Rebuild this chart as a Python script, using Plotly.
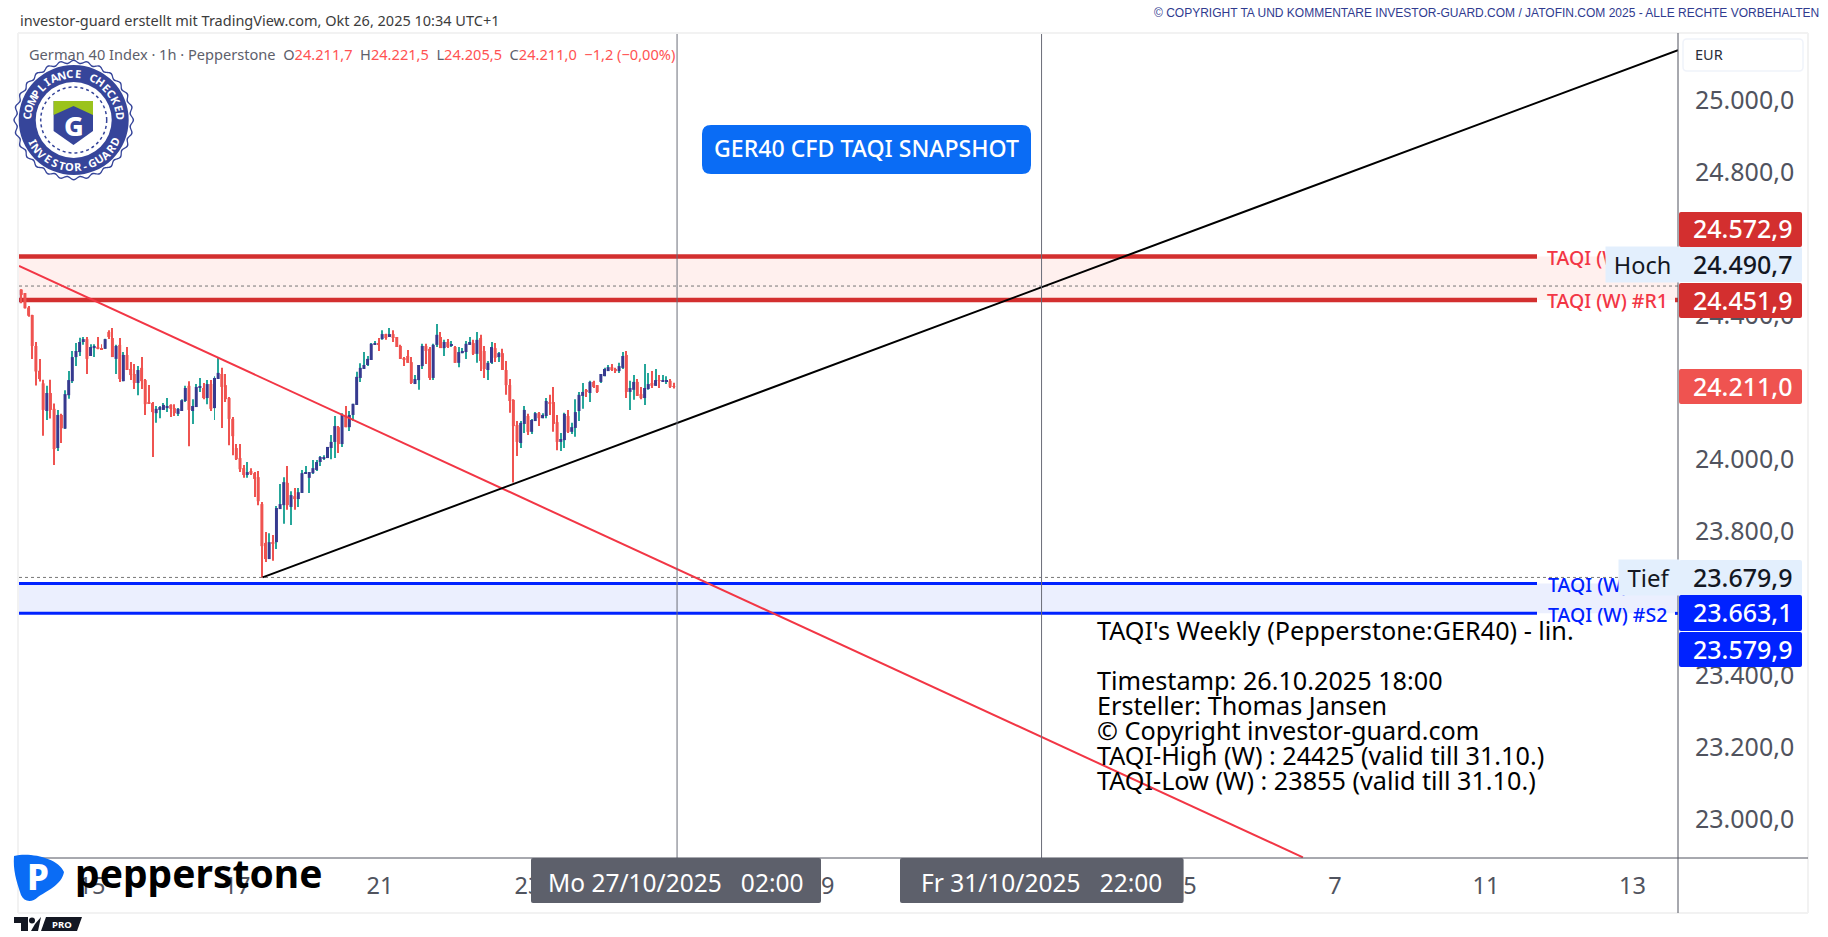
import numpy as np
import plotly.graph_objects as go

# hourly candles
opens = [24442,24481,24471,24431,24410,24324,24255,24220,24143,24193,
         24149,24040,24132,24094,24187,24226,24293,24307,24335,24343,
         24296,24318,24321,24318,24316,24363,24346,24288,24327,24226,
         24299,24260,24246,24221,24263,24229,24168,24165,24137,24146,
         24146,24151,24160,24151,24135,24143,24171,24213,24143,24154,
         24207,24207,24179,24218,24151,24232,24246,24215,24179,24121,
         24040,24012,23984,23965,23976,23970,23959,23884,23776,23731,
         23778,23778,23870,23881,23943,23876,23906,23898,23915,23968,
         23957,23970,23979,24001,24012,24012,24040,24057,24098,24051,
         24132,24098,24132,24160,24235,24260,24271,24285,24327,24330,
         24343,24357,24349,24357,24349,24324,24288,24296,24279,24218,
         24229,24268,24324,24316,24235,24327,24349,24318,24335,24324,
         24321,24277,24304,24307,24327,24332,24302,24346,24310,24257,
         24277,24318,24293,24304,24257,24215,24174,24104,24054,24107,
         24129,24085,24115,24137,24123,24129,24168,24168,24112,24057,
         24062,24129,24085,24096,24143,24185,24199,24193,24224,24215,
         24224,24240,24254,24265,24260,24254,24263,24299,24196,24202,
         24224,24190,24179,24204,24221,24213,24229,24225,24225,24227,24211.7]
highs = [24482,24482,24471,24435,24411,24335,24288,24230,24213,24230,
         24164,24146,24135,24201,24254,24310,24332,24347,24349,24349,
         24329,24329,24349,24329,24344,24368,24374,24327,24346,24307,
         24321,24279,24274,24268,24293,24232,24215,24168,24157,24157,
         24165,24179,24162,24162,24151,24176,24213,24226,24176,24218,
         24235,24221,24229,24229,24240,24293,24263,24246,24182,24126,
         24051,24051,23993,24001,23984,23973,23976,23890,23806,23803,
         23798,23879,23940,23959,23990,23920,23929,23929,23979,23990,
         23973,24007,24007,24018,24020,24043,24076,24129,24101,24137,
         24157,24143,24163,24252,24276,24307,24296,24332,24338,24346,
         24368,24358,24374,24368,24349,24327,24293,24313,24293,24243,
         24271,24330,24330,24321,24330,24385,24363,24341,24343,24338,
         24324,24321,24318,24338,24349,24341,24363,24355,24324,24282,
         24335,24332,24307,24316,24282,24232,24176,24115,24115,24157,
         24135,24121,24140,24140,24137,24179,24188,24210,24132,24082,
         24138,24146,24110,24176,24196,24221,24204,24227,24227,24215,
         24246,24263,24271,24274,24263,24277,24307,24310,24227,24243,
         24232,24210,24274,24249,24254,24260,24243,24243,24240,24232,24221.5]
lows = [24438,24443,24428,24405,24288,24214,24225,24074,24118,24122,
        23993,24032,24054,24093,24177,24221,24268,24296,24327,24246,
        24296,24293,24315,24313,24316,24343,24293,24246,24224,24226,
        24257,24229,24204,24187,24204,24132,24164,24015,24110,24123,
        24146,24140,24126,24129,24129,24143,24168,24045,24107,24154,
        24196,24176,24162,24143,24118,24232,24096,24168,24048,24020,
        24007,23973,23957,23957,23965,23904,23881,23680,23723,23731,
        23726,23759,23870,23829,23868,23826,23868,23876,23915,23968,
        23915,23968,23976,23990,24007,24012,24009,24012,24026,24043,
        24098,24087,24115,24160,24224,24260,24268,24285,24327,24310,
        24341,24341,24349,24335,24321,24288,24268,24277,24218,24218,
        24202,24260,24274,24229,24229,24321,24318,24296,24318,24321,
        24277,24265,24304,24288,24327,24299,24277,24254,24235,24229,
        24274,24279,24279,24257,24188,24138,23944,24018,24040,24082,
        24076,24079,24115,24101,24123,24123,24132,24085,24034,24032,
        24040,24082,24079,24071,24115,24149,24182,24168,24207,24193,
        24221,24240,24254,24254,24249,24249,24260,24179,24146,24174,
        24185,24176,24160,24202,24207,24213,24207,24224,24218,24207,24205.5]
closes = [24480,24466,24429,24408,24324,24253,24232,24146,24193,24146,
          24037,24132,24095,24190,24229,24293,24310,24335,24343,24288,
          24321,24324,24317,24315,24343,24349,24293,24324,24232,24299,
          24257,24243,24221,24257,24226,24162,24165,24140,24149,24154,
          24160,24157,24149,24137,24149,24173,24207,24146,24157,24210,
          24210,24179,24218,24149,24235,24249,24210,24176,24121,24073,
          24009,23981,23965,23973,23968,23954,23892,23767,23731,23778,
          23773,23873,23884,23945,23881,23909,23898,23917,23970,23973,
          23973,23984,24001,24015,24015,24043,24057,24101,24051,24132,
          24098,24132,24163,24238,24263,24271,24288,24330,24330,24328,
          24357,24346,24357,24346,24321,24288,24287,24277,24221,24232,
          24271,24324,24310,24235,24327,24355,24318,24335,24321,24327,
          24277,24307,24310,24330,24335,24302,24341,24282,24260,24277,
          24321,24291,24304,24257,24215,24171,24101,24057,24110,24146,
          24085,24118,24137,24123,24132,24171,24165,24107,24057,24065,
          24135,24085,24098,24140,24188,24196,24196,24224,24210,24196,
          24246,24260,24265,24257,24254,24268,24296,24196,24207,24224,
          24185,24179,24207,24218,24213,24229,24227,24227,24227,24210,24211.0]
bars = list(range(len(closes)))

y_ticks = [25000, 24800, 24600, 24400, 24200, 24000, 23800, 23600, 23400, 23200, 23000]
y_tick_text = ["25.000,0", "24.800,0", "24.600,0", "24.400,0", "24.200,0", "24.000,0",
               "23.800,0", "23.600,0", "23.400,0", "23.200,0", "23.000,0"]
x_ticks = [20.4, 60.2, 99.4, 140, 220.4, 321.6, 361.4, 402.8, 443]
x_tick_text = ["15", "17", "21", "23", "29", "5", "7", "11", "13"]

red_levels = [24572.9, 24451.9]
blue_levels = [23663.1, 23579.9]
dotted_levels = [24490.7, 23679.9]
session_bars = [180.9, 280.9]
session_text = ["Mo 27/10/2025\u00a0\u00a0\u00a002:00", "Fr 31/10/2025\u00a0\u00a0\u00a022:00"]

resist_x = [0.37, 352.6]
resist_y = [24546.5, 22901]
support_x = [67.2, 455.5]
support_y = [23680, 25147]

info_lines = ["TAQI's Weekly (Pepperstone:GER40) - lin.", "",
              "Timestamp: 26.10.2025 18:00", "Ersteller: Thomas Jansen",
              "\u00a9 Copyright investor-guard.com",
              "TAQI-High (W) : 24425 (valid till 31.10.)",
              "TAQI-Low (W) : 23855 (valid till 31.10.)"]

FONT = "Noto Sans"
L, R, T, B = 19, 1678, 33, 858
UP, DOWN, UP_WICK = "#363a8f", "#ef5350", "#26a69a"
RED, BLUE = "#d32f2f", "#0022ff"
NAVY = "#36459a"


def px(x):
    return (x - L) / (R - L)


def py(y):
    return (B - y) / (B - T)


def round_rect(x0, y0, x1, y1, r):
    return (f"M{px(x0 + r)},{py(y0)} L{px(x1 - r)},{py(y0)} Q{px(x1)},{py(y0)} {px(x1)},{py(y0 + r)} "
            f"L{px(x1)},{py(y1 - r)} Q{px(x1)},{py(y1)} {px(x1 - r)},{py(y1)} "
            f"L{px(x0 + r)},{py(y1)} Q{px(x0)},{py(y1)} {px(x0)},{py(y1 - r)} "
            f"L{px(x0)},{py(y0 + r)} Q{px(x0)},{py(y0)} {px(x0 + r)},{py(y0)} Z")


def poly(points):
    return "M" + " L".join(f"{px(a)},{py(b)}" for a, b in points) + " Z"


shapes = []
notes = []


def box(x0, y0, x1, y1, fill, r=2):
    shapes.append(dict(type="path", xref="paper", yref="paper", path=round_rect(x0, y0, x1, y1, r),
                       fillcolor=fill, line_width=0, layer="above"))


def path(points, fill):
    shapes.append(dict(type="path", xref="paper", yref="paper", path=poly(points),
                       fillcolor=fill, line_width=0, layer="above"))


def circle(cx, cy, r, fill, line=None, dash=None, width=0):
    shapes.append(dict(type="circle", xref="paper", yref="paper", x0=px(cx - r), x1=px(cx + r),
                       y0=py(cy + r), y1=py(cy - r), fillcolor=fill, layer="above",
                       line=dict(color=line, width=width, dash=dash)))


def text(x, y, s, size, color, anchor="left", weight=400, family=FONT, angle=0):
    notes.append(dict(xref="paper", yref="paper", x=px(x), y=py(y), text=s, showarrow=False,
                      xanchor=anchor, yanchor="middle", textangle=angle, borderpad=0,
                      font=dict(family=family, size=size, color=color, weight=weight)))


def tag(x0, y0, x1, y1, s, size, fill, color):
    # annotation with its own background, so it covers the level label under it
    notes.append(dict(xref="paper", yref="paper", x=px(x0), y=py((y0 + y1) / 2), text=s, showarrow=False,
                      xanchor="left", yanchor="middle", width=x1 - x0, height=y1 - y0, bgcolor=fill,
                      borderpad=0, font=dict(family=FONT, size=size, color=color)))


fig = go.Figure()

# wicks and bodies as two bar traces, body and wick differ in colour on the up candles
wick_colors = [UP_WICK if c >= o else DOWN for o, c in zip(opens, closes)]
body_colors = [UP if c >= o else DOWN for o, c in zip(opens, closes)]
fig.add_trace(go.Bar(x=bars, base=lows, y=[h - l for h, l in zip(highs, lows)], width=0.27,
                     marker=dict(color=wick_colors, line_width=0), hoverinfo="skip"))
fig.add_trace(go.Bar(x=bars, base=[min(o, c) for o, c in zip(opens, closes)],
                     y=[abs(c - o) for o, c in zip(opens, closes)], width=0.82,
                     marker=dict(color=body_colors, line_width=0), hoverinfo="skip"))
fig.add_trace(go.Scatter(x=resist_x, y=resist_y, mode="lines", line=dict(color="#f23645", width=2), hoverinfo="skip"))
fig.add_trace(go.Scatter(x=support_x, y=support_y, mode="lines", line=dict(color="black", width=2), hoverinfo="skip"))
# only there so the shifted tick axis gets drawn
fig.add_trace(go.Scatter(x=bars[-1:], y=closes[-1:], yaxis="y2", mode="markers", opacity=0, hoverinfo="skip"))

# zones and level lines
shapes.append(dict(type="rect", xref="paper", yref="y", x0=0, x1=1, y0=red_levels[1], y1=red_levels[0],
                   fillcolor="#fff0ee", line_width=0, layer="below"))
shapes.append(dict(type="rect", xref="paper", yref="y", x0=0, x1=1, y0=blue_levels[1], y1=blue_levels[0],
                   fillcolor="#ebeffe", line_width=0, layer="below"))
for lev in dotted_levels:
    shapes.append(dict(type="line", xref="paper", yref="y", x0=0, x1=1, y0=lev, y1=lev,
                       line=dict(color="#777777", width=1, dash="dot"), layer="below"))
for levels, col, w in [(red_levels, RED, 4.5), (blue_levels, BLUE, 3)]:
    for lev in levels:
        for a, b in [(L, 1537), (1675, R)]:
            shapes.append(dict(type="line", xref="paper", yref="y", x0=px(a), x1=px(b), y0=lev, y1=lev,
                               line=dict(color=col, width=w), layer="below"))

for b in session_bars:
    shapes.append(dict(type="line", xref="x", yref="paper", x0=b, x1=b, y0=0, y1=1,
                       line=dict(color="#6a6d78", width=1), layer="above"))

# frame of the chart panel
shapes.append(dict(type="line", xref="paper", yref="paper", x0=px(18), x1=px(1808), y0=py(33), y1=py(33),
                   line=dict(color="#f2f2f2", width=2), layer="above"))
shapes.append(dict(type="line", xref="paper", yref="paper", x0=px(18), x1=px(18), y0=py(33), y1=py(913),
                   line=dict(color="#f2f2f2", width=2), layer="above"))
shapes.append(dict(type="line", xref="paper", yref="paper", x0=px(1808), x1=px(1808), y0=py(33), y1=py(913),
                   line=dict(color="#f2f2f2", width=2), layer="above"))
shapes.append(dict(type="line", xref="paper", yref="paper", x0=px(18), x1=px(1808), y0=py(913), y1=py(913),
                   line=dict(color="#f2f2f2", width=2), layer="above"))
shapes.append(dict(type="line", xref="paper", yref="paper", x0=px(18), x1=px(1808), y0=py(858), y1=py(858),
                   line=dict(color="#50535e", width=1), layer="above"))
shapes.append(dict(type="line", xref="paper", yref="paper", x0=px(R), x1=px(R), y0=py(33), y1=py(913),
                   line=dict(color="#50535e", width=1), layer="above"))

# header
text(19, 20, "investor-guard erstellt mit TradingView.com, Okt 26, 2025 10:34 UTC+1", 14.5, "#3c3c3c")
text(1820, 13.5, "\u00a9 COPYRIGHT TA UND KOMMENTARE INVESTOR-GUARD.COM / JATOFIN.COM 2025 - ALLE RECHTE VORBEHALTEN",
     12, "#2f3b8f", anchor="right", family="Liberation Sans")
gr = "#5d606b"
rd = "#ff5252"
legend_row = (f"<span style='color:{gr}'>German 40 Index \u00b7 1h \u00b7 Pepperstone\u00a0\u00a0O</span>"
              f"<span style='color:{rd}'>24.211,7</span>\u00a0<span style='color:{gr}'>\u00a0H</span>"
              f"<span style='color:{rd}'>24.221,5</span>\u00a0<span style='color:{gr}'>\u00a0L</span>"
              f"<span style='color:{rd}'>24.205,5</span>\u00a0<span style='color:{gr}'>\u00a0C</span>"
              f"<span style='color:{rd}'>24.211,0\u00a0\u00a0\u22121,2 (\u22120,00%)</span>")
text(28, 54, legend_row, 14.6, gr)

# title button
box(702, 125, 1031, 174, "#0a6cf5", r=9)
text(866.5, 148, "GER40 CFD TAQI SNAPSHOT", 23.1, "white", anchor="center", weight=500)

# price scale
box(1683, 39, 1803, 71, "white", r=4)
shapes.append(dict(type="path", xref="paper", yref="paper", path=round_rect(1683, 39, 1803, 71, 4),
                   line=dict(color="#f0f3fa", width=1.5), layer="above"))
text(1694, 54, "EUR", 14.5, "#2a2e39")

text(1546, 257, "TAQI (W) #R2", 19.5, "#f23645", weight=500)
text(1546, 300.5, "TAQI (W) #R1", 19.5, "#f23645", weight=500)
text(1547, 584, "TAQI (W) #S1", 19.5, BLUE, weight=500)
text(1547, 614, "TAQI (W) #S2", 19.5, BLUE, weight=500)

tag(1605, 247, 1678, 282, "Hoch", 23.5, "#e3effd", "#131722")
tag(1618, 560, 1678, 595, "Tief", 24, "#e3effd", "#131722")

scale_labels = [("24.572,9", 212, 247, RED, "white"), ("24.490,7", 247, 282, "#e3effd", "#131722"),
                ("24.451,9", 283, 318, RED, "white"), ("24.211,0", 369, 404, "#ef5350", "white"),
                ("23.679,9", 560, 595, "#e3effd", "#131722"), ("23.663,1", 595, 631, BLUE, "white"),
                ("23.579,9", 632, 667, BLUE, "white")]
for label, y0, y1, fill, col in scale_labels:
    box(1679, y0, 1802, y1, fill)
    text(1792.5, (y0 + y1) / 2 - 1, label, 25, col, anchor="right", weight=500)

# cursor labels on the time scale
for b, label, x0, x1 in zip(session_bars, session_text, [531, 900], [821, 1183.6]):
    box(x0, 858, x1, 903, "#5d606b")
    text((x0 + x1) / 2, 882, label, 24.5, "white", anchor="center")

# info block
for i, line in enumerate(info_lines):
    if line:
        text(1096, 629.5 + i * 25, line, 25.2, "black")

# compliance badge
cx, cy = 73.7, 120
t = np.linspace(0, 2 * np.pi, 361)[:-1]
edge = 59 + 1.4 * np.cos(28 * t)
path(list(zip(cx + edge * np.cos(t), cy + edge * np.sin(t))), NAVY)
inner = edge - 1.5
path(list(zip(cx + inner * np.cos(t), cy + inner * np.sin(t))), "white")
circle(cx, cy, 55, NAVY)
circle(cx, cy, 38, "white")
circle(cx, cy, 33, "white", line=NAVY, dash="dot", width=1.5)
path([(53.6, 101), (93, 101), (93, 131), (73.5, 145), (53.6, 131)], NAVY)
path([(53.6, 101), (93, 101), (93, 115), (73.5, 106), (53.6, 115)], "#9bc31c")
text(73.5, 125, "G", 27, "white", anchor="center", weight=800)
top_word = "COMPLIANCE CHECKED"
for i, ch in enumerate(top_word):
    a = np.deg2rad(-85 + 170 * i / (len(top_word) - 1))
    text(cx + 46.5 * np.sin(a), cy - 46.5 * np.cos(a), ch, 11, "white", anchor="center", weight=700,
         angle=np.rad2deg(a))
low_word = "INVESTOR-GUARD"
for i, ch in enumerate(low_word):
    a = np.deg2rad(-62 + 124 * i / (len(low_word) - 1))
    text(cx + 46.5 * np.sin(a), cy + 46.5 * np.cos(a), ch, 11, "white", anchor="center", weight=700,
         angle=-np.rad2deg(a))

# pepperstone logo
shapes.append(dict(type="path", xref="paper", yref="paper", fillcolor="#0a6cf5", line_width=0, layer="above",
                   path=(f"M{px(14)},{py(856)} C{px(30)},{py(852)} {px(58)},{py(858)} {px(64)},{py(872)} "
                         f"C{px(62)},{py(885)} {px(45)},{py(892)} {px(38)},{py(897)} "
                         f"C{px(32)},{py(903)} {px(24)},{py(902)} {px(21)},{py(895)} "
                         f"C{px(16)},{py(880)} {px(13)},{py(870)} {px(14)},{py(856)} Z")))
text(38, 877, "P", 35, "white", anchor="center", weight=800)
text(74, 873, "pepperstone", 39, "black", weight=700)

# tradingview mark
path([(14, 917), (28, 917), (28, 931), (21, 931), (21, 923), (14, 923)], "#131722")
circle(32, 920.5, 3, "#131722")
path([(35, 924), (41, 917), (38, 931), (31, 931)], "#131722")
path([(46, 917), (82, 917), (77, 931), (41, 931)], "#131722")
text(61.5, 924, "PRO", 9.5, "white", anchor="center", weight=700)

top_price = 25194.8
bottom_price = 22899.2
label_shift = 8.35

fig.update_layout(
    width=1828, height=937, autosize=False, showlegend=False,
    margin=dict(l=L, r=1828 - R, t=T, b=937 - B),
    paper_bgcolor="white", plot_bgcolor="white",
    barmode="overlay", hovermode=False,
    shapes=shapes, annotations=notes,
    xaxis=dict(range=[0.37, 455.5], showgrid=False, zeroline=False,
               tickmode="array", tickvals=x_ticks, ticktext=x_tick_text, ticks="outside", ticklen=7,
               tickcolor="white", tickfont=dict(family=FONT, size=23.5, color="#50535e")),
    yaxis=dict(range=[bottom_price, top_price], showgrid=False, zeroline=False, showticklabels=False, ticks=""),
    yaxis2=dict(range=[bottom_price - label_shift, top_price - label_shift], overlaying="y", side="right",
                showgrid=False, zeroline=False, tickmode="array", tickvals=y_ticks, ticktext=y_tick_text,
                ticks="outside", ticklen=11, tickcolor="rgba(0,0,0,0)",
                tickfont=dict(family=FONT, size=25, color="#50535e")),
)

fig.write_html("out.html", config={"displayModeBar": False},
               post_script="document.body.style.margin='0';document.body.style.overflow='hidden';")
